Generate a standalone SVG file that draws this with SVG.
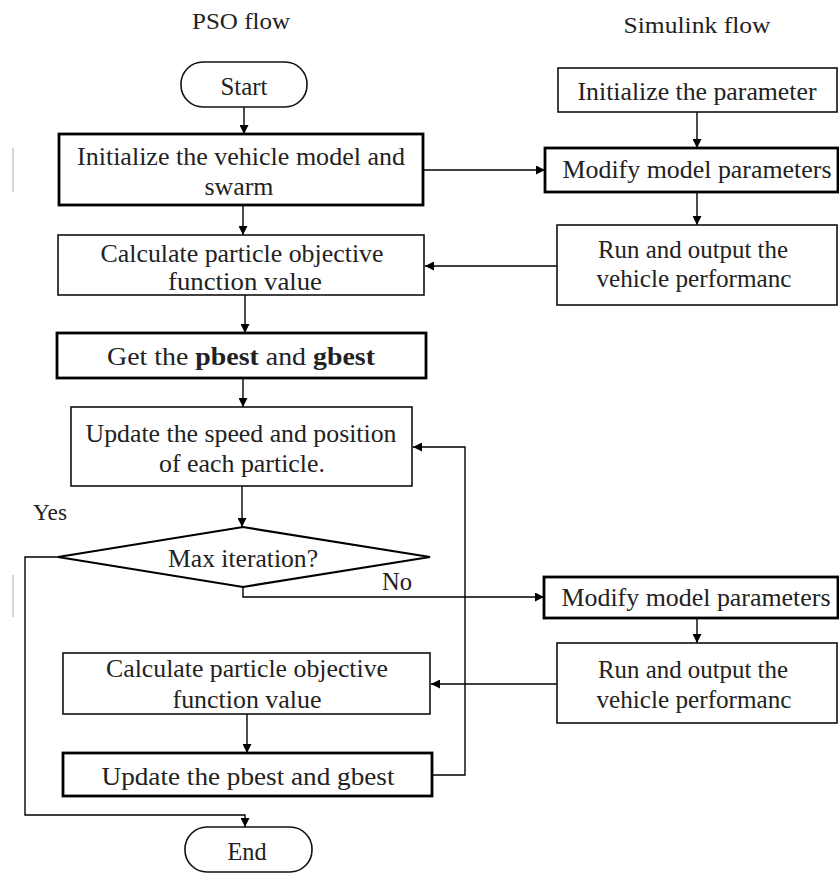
<svg xmlns="http://www.w3.org/2000/svg" width="839" height="874" viewBox="0 0 839 874">
<defs>
<marker id="arr" viewBox="0 0 10 10" refX="10" refY="5" markerWidth="9" markerHeight="9" markerUnits="userSpaceOnUse" orient="auto">
<path d="M0,0 L10,5 L0,10 z" fill="#000"/>
</marker>
</defs>
<style>
text{font-family:"Liberation Serif","Times New Roman",serif;fill:#222;text-anchor:middle}
.t{font-size:25px}
.h{font-size:23px}
.thin{fill:#fff;stroke:#111;stroke-width:1.6}
.thick{fill:#fff;stroke:#000;stroke-width:2.8}
.ca{fill:none;stroke:#000;stroke-width:1.4;marker-end:url(#arr)}
.stray{stroke:#bbb;stroke-width:1.2}
</style>
<rect width="839" height="874" fill="#fff"/>
<line class="stray" x1="13" y1="148" x2="13" y2="192"/>
<line class="stray" x1="13" y1="575" x2="13" y2="617"/>
<text class="h" x="241" y="29" textLength="98" lengthAdjust="spacingAndGlyphs">PSO flow</text>
<text class="h" x="697" y="33" textLength="147" lengthAdjust="spacingAndGlyphs">Simulink flow</text>
<g id="connectors">
<path class="ca" d="M244,107 V134"/>
<path class="ca" d="M243,205 V235"/>
<path class="ca" d="M423,170 H545"/>
<path class="ca" d="M697,112 V148"/>
<path class="ca" d="M697,192 V225"/>
<path class="ca" d="M557,266 H425"/>
<path class="ca" d="M245,295 V333"/>
<path class="ca" d="M243,378 V407"/>
<path class="ca" d="M242,486 V527"/>
<path class="ca" d="M58,557 H25 V815 H245 V827"/>
<path class="ca" d="M243,587 V597 H544"/>
<path class="ca" d="M697,618 V643"/>
<path class="ca" d="M557,684 H431"/>
<path class="ca" d="M247,714 V753"/>
<path class="ca" d="M432,775 H465 V447 H413"/>
<text class="t" x="397" y="590" textLength="30" lengthAdjust="spacingAndGlyphs">No</text>
<text class="h" x="50" y="520" textLength="34" lengthAdjust="spacingAndGlyphs">Yes</text>
</g>
<g id="start"><rect class="thin" x="181" y="62" width="126" height="45" rx="22"/><text class="t" x="244" y="95" textLength="47" lengthAdjust="spacingAndGlyphs">Start</text></g>
<g id="init-model"><rect class="thick" x="59" y="134" width="364" height="71"/><text class="t" x="241" y="165" textLength="328" lengthAdjust="spacingAndGlyphs">Initialize the vehicle model and</text><text class="t" x="239" y="195" textLength="69" lengthAdjust="spacingAndGlyphs">swarm</text></g>
<g id="calc1"><rect class="thin" x="58" y="235" width="366" height="60"/><text class="t" x="242" y="262" textLength="283" lengthAdjust="spacingAndGlyphs">Calculate particle objective</text><text class="t" x="245" y="290" textLength="154" lengthAdjust="spacingAndGlyphs">function value</text></g>
<g id="get-best"><rect class="thick" x="57" y="333" width="369" height="45"/><text class="t" x="241" y="365" textLength="268" lengthAdjust="spacingAndGlyphs">Get the <tspan font-weight="bold">pbest</tspan> and <tspan font-weight="bold">gbest</tspan></text></g>
<g id="update-speed"><rect class="thin" x="71" y="407" width="341" height="79"/><text class="t" x="241" y="442" textLength="311" lengthAdjust="spacingAndGlyphs">Update the speed and position</text><text class="t" x="242" y="472" textLength="166" lengthAdjust="spacingAndGlyphs">of each particle.</text></g>
<g id="max-iter"><polygon class="thick" points="243,527 430,557 243,587 58,557" style="stroke-width:2.2"/><text class="t" x="243" y="567" textLength="150" lengthAdjust="spacingAndGlyphs">Max iteration?</text></g>
<g id="calc2"><rect class="thin" x="63" y="653" width="367" height="61"/><text class="t" x="247" y="677" textLength="282" lengthAdjust="spacingAndGlyphs">Calculate particle objective</text><text class="t" x="247" y="708" textLength="149" lengthAdjust="spacingAndGlyphs">function value</text></g>
<g id="update-best"><rect class="thick" x="63" y="753" width="369" height="43"/><text class="t" x="248" y="785" textLength="293" lengthAdjust="spacingAndGlyphs">Update the pbest and gbest</text></g>
<g id="end"><rect class="thin" x="185" y="827" width="127" height="45" rx="22"/><text class="t" x="247" y="860" textLength="39" lengthAdjust="spacingAndGlyphs">End</text></g>
<g id="init-param"><rect class="thin" x="558" y="68" width="279" height="44"/><text class="t" x="697" y="100" textLength="239" lengthAdjust="spacingAndGlyphs">Initialize the parameter</text></g>
<g id="modify1"><rect class="thick" x="545" y="148" width="293" height="44"/><text class="t" x="697" y="178" textLength="269" lengthAdjust="spacingAndGlyphs">Modify model parameters</text></g>
<g id="run1"><rect class="thin" x="557" y="225" width="280" height="80"/><text class="t" x="693" y="258" textLength="190" lengthAdjust="spacingAndGlyphs">Run and output the</text><text class="t" x="694" y="287" textLength="195" lengthAdjust="spacingAndGlyphs">vehicle performanc</text></g>
<g id="modify2"><rect class="thick" x="544" y="577" width="294" height="41"/><text class="t" x="696" y="606" textLength="269" lengthAdjust="spacingAndGlyphs">Modify model parameters</text></g>
<g id="run2"><rect class="thin" x="557" y="643" width="280" height="80"/><text class="t" x="693" y="678" textLength="190" lengthAdjust="spacingAndGlyphs">Run and output the</text><text class="t" x="694" y="708" textLength="195" lengthAdjust="spacingAndGlyphs">vehicle performanc</text></g>
</svg>
